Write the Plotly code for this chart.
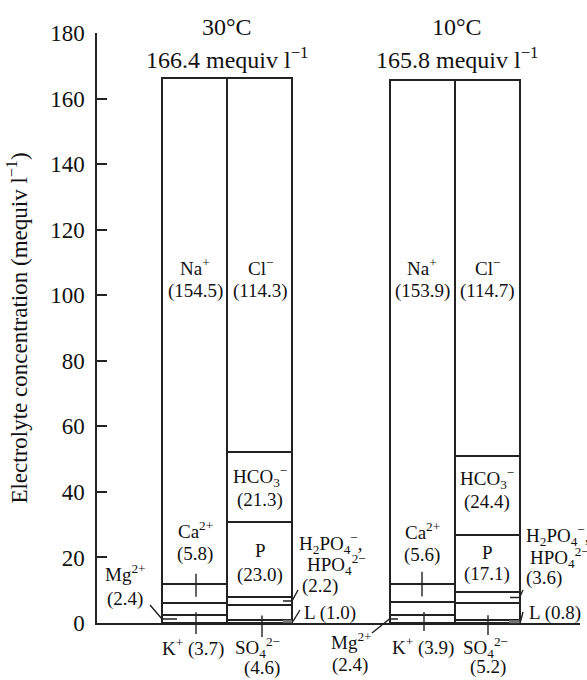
import plotly.graph_objects as go
import numpy as np

# ---------------- data ----------------
conditions = ["30°C", "10°C"]
totals = [166.4, 165.8]
total_labels = ["166.4 mequiv l<sup>−1</sup>", "165.8 mequiv l<sup>−1</sup>"]

# cations, bottom -> top
cation_names = ["Mg", "K", "Ca", "Na"]
cations_30 = [2.4, 3.7, 5.8, 154.5]
cations_10 = [2.4, 3.9, 5.6, 153.9]

# anions, bottom -> top (L = lactate, P = protein)
anion_names = ["L", "SO4", "HPO4", "P", "HCO3", "Cl"]
anions_30 = [1.0, 4.6, 2.2, 23.0, 21.3, 114.3]
anions_10 = [0.8, 5.2, 3.6, 17.1, 24.4, 114.7]

y_ticks = [0, 20, 40, 60, 80, 100, 120, 140, 160, 180]

# ---------------- layout geometry ----------------
W, H = 587, 680
L_PX, R_PX, T_PX, B_PX = 97, 580, 33, 623
XMAX = (R_PX - L_PX) / 65.0
YMAX = 180
cation_x = [1.5, 5.0]
anion_x = [2.5, 6.0]

FONT = "Liberation Serif, Times New Roman, serif"
INK = "#222222"


def px(xp):  # pixel -> paper x
    return (xp - L_PX) / (R_PX - L_PX)


def py(yp):  # pixel -> paper y
    return (B_PX - yp) / (B_PX - T_PX)


def vy(v):  # data value -> paper y
    return v / YMAX


def xb(xd):  # data x -> paper x
    return xd / XMAX


fig = go.Figure()

# ---------------- stacked bars ----------------
def add_stack(names, v30, v10, xs):
    b30 = np.concatenate([[0], np.cumsum(v30)[:-1]])
    b10 = np.concatenate([[0], np.cumsum(v10)[:-1]])
    for i, n in enumerate(names):
        fig.add_trace(go.Bar(
            x=xs, y=[v30[i], v10[i]], base=[b30[i], b10[i]],
            width=1.0, name=n, showlegend=False,
            marker=dict(color="white", line=dict(color=INK, width=2)),
            hoverinfo="skip"))


add_stack(cation_names, cations_30, cations_10, cation_x)
add_stack(anion_names, anions_30, anions_10, anion_x)

cum_c30 = np.cumsum(cations_30)
cum_c10 = np.cumsum(cations_10)
cum_a30 = np.cumsum(anions_30)
cum_a10 = np.cumsum(anions_10)


def mid(cum, i):
    lo = 0 if i == 0 else cum[i - 1]
    return (lo + cum[i]) / 2


# ---------------- annotations ----------------
ann = []
FS = 19


def txt(t, xp, yp, size=FS, xanchor="center"):
    ann.append(dict(text=t, x=px(xp), y=py(yp), xref="paper", yref="paper",
                    showarrow=False, xanchor=xanchor, yanchor="middle",
                    font=dict(family=FONT, size=size, color="#111")))


# titles
txt(conditions[0], 227, 27, 24)
txt(total_labels[0], 227, 58, 24)
txt(conditions[1], 457, 27, 24)
txt(total_labels[1], 457, 58, 24)

# 30 °C inside labels
txt("Na<sup>+</sup>", 195, 267)
txt(f"({cations_30[3]})", 195, 291)
txt("Cl<sup>−</sup>", 260, 267)
txt(f"({anions_30[5]})", 260, 291)
txt("HCO<sub>3</sub><sup>−</sup>", 260, 476)
txt(f"({anions_30[4]})", 260, 500)
txt("Ca<sup>2+</sup>", 195, 530)
txt(f"({cations_30[2]})", 195, 554)
txt("P", 260, 550)
txt(f"({anions_30[3]:.1f})", 260, 575)
# 30 °C outside labels
txt("Mg<sup>2+</sup>", 125, 573)
txt(f"({cations_30[0]})", 125, 599)
txt(f"K<sup>+</sup> ({cations_30[1]})", 193, 648)
txt("SO<sub>4</sub><sup>2−</sup>", 257, 647)
txt(f"({anions_30[1]})", 262, 668)
txt("H<sub>2</sub>PO<sub>4</sub><sup>−</sup>,", 297, 543, xanchor="left")
txt("HPO<sub>4</sub><sup>2−</sup>", 305, 564, xanchor="left")
txt(f"({anions_30[2]})", 320, 586)
txt(f"L ({anions_30[0]:.1f})", 302, 613, xanchor="left")

# 10 °C inside labels
txt("Na<sup>+</sup>", 422, 267)
txt(f"({cations_10[3]})", 422, 291)
txt("Cl<sup>−</sup>", 487, 267)
txt(f"({anions_10[5]})", 487, 291)
txt("HCO<sub>3</sub><sup>−</sup>", 487, 478)
txt(f"({anions_10[4]})", 487, 502)
txt("Ca<sup>2+</sup>", 422, 531)
txt(f"({cations_10[2]})", 422, 555)
txt("P", 487, 552)
txt(f"({anions_10[3]})", 487, 574)
# 10 °C outside labels
txt("Mg<sup>2+</sup>", 351, 641)
txt(f"({cations_10[0]})", 350, 665)
txt(f"K<sup>+</sup> ({cations_10[1]})", 423, 646)
txt("SO<sub>4</sub><sup>2−</sup>", 485, 647)
txt(f"({anions_10[1]})", 488, 667)
txt("H<sub>2</sub>PO<sub>4</sub><sup>−</sup>,", 524, 535, xanchor="left")
txt("HPO<sub>4</sub><sup>2−</sup>", 528, 557, xanchor="left")
txt(f"({anions_10[2]})", 544, 578)
txt(f"L ({anions_10[0]:.1f})", 527, 613, xanchor="left")

# ---------------- leader lines ----------------
shapes = []


def seg(points, color=INK, width=1.4):
    path = "M " + " L ".join(f"{x},{y}" for x, y in points)
    shapes.append(dict(type="path", path=path, xref="paper", yref="paper",
                       line=dict(color=color, width=width)))


# 30 °C
x0c = xb(cation_x[0] - 0.5)
x0a = xb(anion_x[0] + 0.5)
ym = vy(mid(cum_c30, 0))
seg([(px(150), py(605)), (x0c, ym), (px(177), ym)])
seg([(px(196), vy(mid(cum_c30, 1) - 1)), (px(196), py(634))])
seg([(px(196), vy(mid(cum_c30, 2) + 6)), (px(196), vy(mid(cum_c30, 2) - 1))])
seg([(px(262), vy(mid(cum_a30, 1) - 1)), (px(262), py(637))])
yh = vy(mid(cum_a30, 2))
seg([(px(283), yh), (x0a, yh), (px(298), py(590))])
seg([(px(300), py(610)), (x0a + 0.002, vy(mid(cum_a30, 0)))])
seg([(px(283), vy(mid(cum_a30, 0))), (x0a, vy(mid(cum_a30, 0)))], color="#777", width=3)

# 10 °C
x1c = xb(cation_x[1] - 0.5)
x1a = xb(anion_x[1] + 0.5)
ym = vy(mid(cum_c10, 0))
seg([(px(372), py(633)), (x1c, ym), (px(398), ym)])
seg([(px(424), vy(mid(cum_c10, 1) - 1)), (px(424), py(631))])
seg([(px(422), vy(mid(cum_c10, 2) + 6.5)), (px(422), vy(mid(cum_c10, 2) - 1))])
seg([(px(488), vy(mid(cum_a10, 1) - 1)), (px(488), py(635))])
yh = vy(mid(cum_a10, 2))
seg([(px(510), yh), (x1a, yh), (px(523), py(590))])
seg([(px(523), py(612)), (x1a + 0.002, vy(mid(cum_a10, 0)))])
seg([(px(509), vy(mid(cum_a10, 0))), (x1a, vy(mid(cum_a10, 0)))], color="#777", width=3)

# ---------------- layout ----------------
fig.update_layout(
    width=W, height=H,
    margin=dict(l=L_PX, r=W - R_PX, t=T_PX, b=H - B_PX, pad=0),
    paper_bgcolor="white", plot_bgcolor="white",
    barmode="overlay", bargap=0,
    annotations=ann, shapes=shapes,
    font=dict(family=FONT, color="#111"),
    xaxis=dict(range=[0, XMAX], showticklabels=False, ticks="",
               showgrid=False, zeroline=False, showline=True,
               linecolor=INK, linewidth=1.5, fixedrange=True),
    yaxis=dict(range=[0, YMAX], tickvals=y_ticks, ticks="inside",
               ticklen=10, tickwidth=1.5, tickcolor=INK,
               showgrid=False, zeroline=False, showline=True,
               linecolor=INK, linewidth=1.5,
               tickfont=dict(family=FONT, size=23, color="#111"),
               ticklabelstandoff=6,
               title=dict(text="Electrolyte concentration (mequiv l<sup>−1</sup>)",
                          font=dict(family=FONT, size=23, color="#111"),
                          standoff=16)),
)

fig.write_html("out.html", config={"displayModeBar": False},
               post_script="document.body.style.margin='0';document.body.style.overflow='hidden';")
